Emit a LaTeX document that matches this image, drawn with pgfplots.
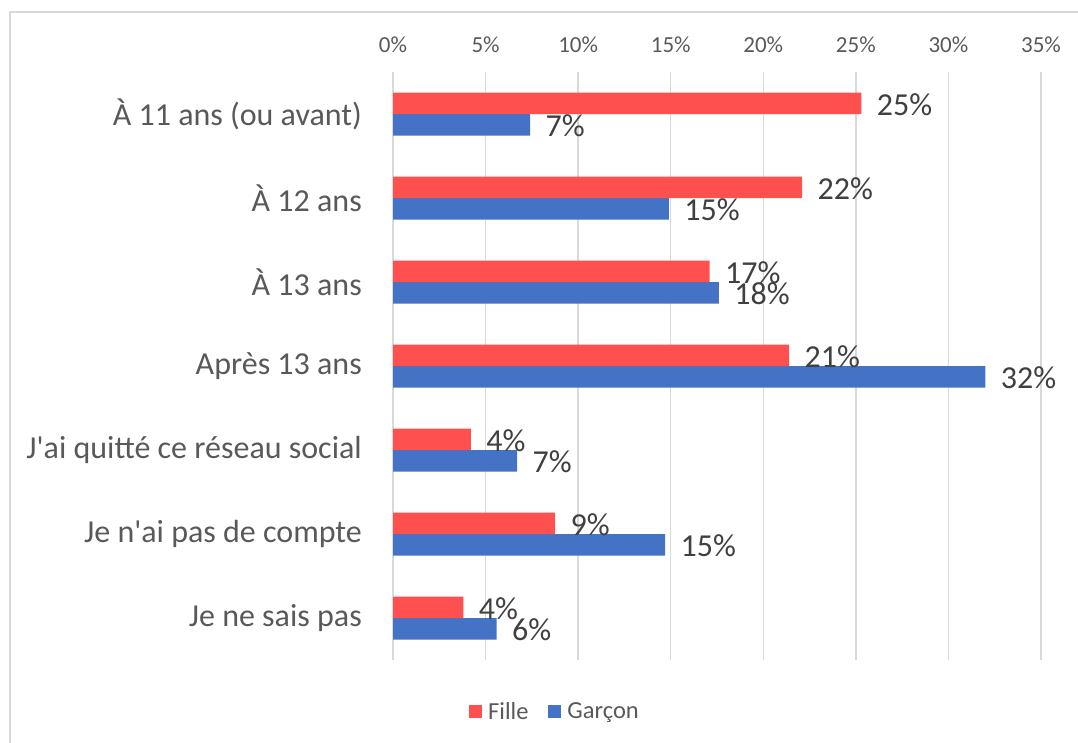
\documentclass[border=0pt]{standalone}
\usepackage{fontspec}
\setmainfont{Carlito}
\usepackage{pgfplots}
\pgfplotsset{compat=1.18}

\definecolor{fille}{HTML}{FF5050}
\definecolor{garcon}{HTML}{4472C4}
\definecolor{gridc}{HTML}{D9D9D9}
\definecolor{txt}{HTML}{595959}
\definecolor{lbl}{HTML}{404040}

\begin{document}
\begin{tikzpicture}
\path[use as bounding box] (0,0) rectangle (1078pt,742pt);
\draw[gridc, line width=1.5pt] (10pt,-20pt) -- (10pt,730pt) -- (1100pt,730pt);
\begin{axis}[
    at={(393pt,82pt)}, anchor=south west,
    scale only axis,
    width=648pt, height=588pt,
    xbar=0pt,
    bar width=21.5pt,
    xmin=0, xmax=35,
    ymin=-0.5, ymax=6.5,
    y dir=reverse,
    xtick={0,5,...,35},
    xticklabel={\pgfmathprintnumber{\tick}\%},
    xticklabel pos=upper,
    ytick={0,...,6},
    yticklabels={À 11 ans (ou avant), À 12 ans, À 13 ans, Après 13 ans,
        J\textquotesingle ai quitté ce réseau social, Je n\textquotesingle ai pas de compte, Je ne sais pas},
    major tick length=0pt,
    axis line style={draw=none},
    xmajorgrids,
    grid style={gridc, line width=1.5pt},
    /pgf/number format/assume math mode=true,
    xticklabel style={font=\fontsize{23}{27}\selectfont, text=txt, anchor=base, yshift=20pt},
    yticklabel style={font=\fontsize{32}{38}\selectfont, text=txt, anchor=east, inner sep=0pt, xshift=-31pt},
    point meta=x,
    nodes near coords={\pgfmathprintnumber[fixed,precision=0]{\pgfplotspointmeta}\%},
    every node near coord/.append style={font=\fontsize{32}{38}\selectfont, text=lbl, anchor=west, xshift=12pt, yshift=-1pt},
    legend columns=2,
    reverse legend,
    legend style={at={(0.25,-0.088)}, anchor=center, draw=none,
        font=\fontsize{24.5}{29}\selectfont, text=txt,
        /tikz/every odd column/.append style={column sep=4pt},
        /tikz/every even column/.append style={column sep=18pt}},
    legend image code/.code={\fill (0pt,-6.5pt) rectangle (13pt,6.5pt);},
]
\addplot[draw=none, fill=garcon] coordinates {
    (7.4,0) (14.9,1) (17.6,2) (32.0,3) (6.7,4) (14.7,5) (5.6,6)
};
\addlegendentry{Garçon}
\addplot[draw=none, fill=fille] coordinates {
    (25.3,0) (22.1,1) (17.1,2) (21.4,3) (4.2,4) (8.75,5) (3.8,6)
};
\addlegendentry{Fille}
\end{axis}
\end{tikzpicture}
\end{document}
